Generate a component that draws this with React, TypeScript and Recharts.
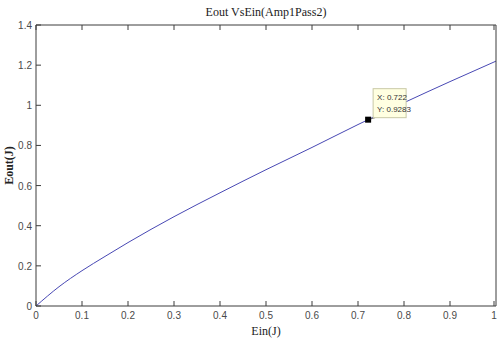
import { LineChart, Line, XAxis, YAxis, Label, ReferenceDot } from "recharts";

// values (Ein in J, Eout in J)
const ein = [0, 0.05, 0.1, 0.15, 0.2, 0.3, 0.4, 0.5, 0.6, 0.7, 0.722, 0.8, 0.9, 1];
const eout = [0, 0.096, 0.176, 0.247, 0.316, 0.445, 0.564, 0.679, 0.79, 0.904, 0.9283, 1.013, 1.118, 1.22];

const xTicks = [0, 0.1, 0.2, 0.3, 0.4, 0.5, 0.6, 0.7, 0.8, 0.9, 1];
const yTicks = [0, 0.2, 0.4, 0.6, 0.8, 1, 1.2, 1.4];

const tipX = 0.722;
const tipY = 0.9283;

const data = ein.map((x, i) => ({ x, y: eout[i] }));

const axisColor = "#3c3c3c";
const sans = "Liberation Sans, Arial, sans-serif";
const serif = "Liberation Serif, Times New Roman, serif";

// MATLAB style: ticks point into the plot
// eslint-disable-next-line @typescript-eslint/no-explicit-any
function BottomTick({ x, y, payload }: any) {
  return (
    <g>
      <line x1={x} y1={y} x2={x} y2={y - 5} stroke={axisColor} />
      <text x={x} y={y + 13} textAnchor="middle" fontSize={10} fill="#4a4a4a" fontFamily={sans}>
        {payload.value}
      </text>
    </g>
  );
}

// eslint-disable-next-line @typescript-eslint/no-explicit-any
function LeftTick({ x, y, payload }: any) {
  return (
    <g>
      <line x1={x} y1={y} x2={x + 5} y2={y} stroke={axisColor} />
      <text x={x - 4} y={y + 4} textAnchor="end" fontSize={10} fill="#4a4a4a" fontFamily={sans}>
        {payload.value}
      </text>
    </g>
  );
}

// eslint-disable-next-line @typescript-eslint/no-explicit-any
function TopTick({ x, y }: any) {
  return <line x1={x} y1={y} x2={x} y2={y + 5} stroke={axisColor} />;
}

// eslint-disable-next-line @typescript-eslint/no-explicit-any
function RightTick({ x, y }: any) {
  return <line x1={x} y1={y} x2={x - 5} y2={y} stroke={axisColor} />;
}

// eslint-disable-next-line @typescript-eslint/no-explicit-any
function DataTip({ cx, cy }: any) {
  if (cx == null || cy == null) return null;
  const bx = cx + 5;
  const by = cy - 31;
  return (
    <g>
      <line x1={cx} y1={cy} x2={bx + 2} y2={by + 29} stroke="#555" strokeWidth={0.8} />
      <rect x={cx - 3} y={cy - 3} width={6} height={6} fill="#000" />
      <rect x={bx} y={by} width={33} height={29} fill="#ffffe1" stroke="#c9c9a6" strokeWidth={1} />
      <text x={bx + 4} y={by + 11} fontSize={8} fill="#333" fontFamily={sans}>
        X: {tipX}
      </text>
      <text x={bx + 4} y={by + 23} fontSize={8} fill="#333" fontFamily={sans}>
        Y: {tipY}
      </text>
    </g>
  );
}

export default function App() {
  return (
    <div style={{ position: "absolute", left: 0, top: 0, width: 498, height: 340, background: "#fff" }}>
      <LineChart width={498} height={340} data={data} margin={{ top: 24, right: 1, left: 0, bottom: 0 }}>
        <XAxis
          xAxisId="b"
          dataKey="x"
          type="number"
          domain={[0, 1]}
          ticks={xTicks}
          allowDataOverflow
          height={34}
          tick={<BottomTick />}
          tickSize={0}
          tickMargin={0}
          tickLine={false}
          stroke={axisColor}
        >
          <Label
            content={(p: any) => (
              <text
                x={p.viewBox.x + p.viewBox.width / 2}
                y={p.viewBox.y + 29}
                textAnchor="middle"
                fontSize={12}
                fontFamily={serif}
                fill="#222"
              >
                Ein(J)
              </text>
            )}
          />
        </XAxis>
        <XAxis
          xAxisId="t"
          orientation="top"
          dataKey="x"
          type="number"
          domain={[0, 1]}
          ticks={xTicks}
          height={1}
          tick={<TopTick />}
          tickSize={0}
          tickMargin={0}
          tickLine={false}
          stroke={axisColor}
        >
          <Label
            content={(p: any) => (
              <text
                x={p.viewBox.x + p.viewBox.width / 2}
                y={16}
                textAnchor="middle"
                fontSize={12}
                fontFamily={serif}
                fill="#222"
              >
                Eout VsEin(Amp1Pass2)
              </text>
            )}
          />
        </XAxis>
        <YAxis
          yAxisId="l"
          type="number"
          domain={[0, 1.4]}
          ticks={yTicks}
          width={36}
          tick={<LeftTick />}
          tickSize={0}
          tickMargin={0}
          tickLine={false}
          stroke={axisColor}
        >
          <Label
            content={(p: any) => {
              const x = 13;
              const y = p.viewBox.y + p.viewBox.height / 2;
              return (
                <text
                  x={x}
                  y={y}
                  transform={`rotate(-90 ${x} ${y})`}
                  textAnchor="middle"
                  fontSize={12}
                  fontWeight="bold"
                  fontFamily={serif}
                  fill="#222"
                >
                  Eout(J)
                </text>
              );
            }}
          />
        </YAxis>
        <YAxis
          yAxisId="r"
          orientation="right"
          type="number"
          domain={[0, 1.4]}
          ticks={yTicks}
          width={1}
          tick={<RightTick />}
          tickSize={0}
          tickMargin={0}
          tickLine={false}
          stroke={axisColor}
        />
        <Line
          xAxisId="b"
          yAxisId="l"
          type="monotone"
          dataKey="y"
          stroke="#4848b4"
          strokeWidth={1}
          dot={false}
          isAnimationActive={false}
        />
        <ReferenceDot xAxisId="b" yAxisId="l" x={tipX} y={tipY} r={3} shape={<DataTip />} />
      </LineChart>
    </div>
  );
}
